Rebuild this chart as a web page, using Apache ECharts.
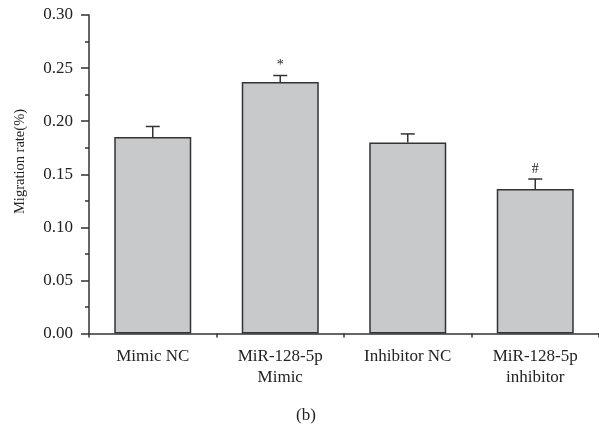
<!DOCTYPE html>
<html><head><meta charset="utf-8">
<script src="https://cdn.jsdelivr.net/npm/echarts@6/dist/echarts.min.js"></script>
<style>html,body{margin:0;padding:0;background:#fff}#c{width:599px;height:429px}</style>
</head><body><div id="c"></div>
<script>
const categories = ['Mimic NC', 'MiR-128-5p\nMimic', 'Inhibitor NC', 'MiR-128-5p\ninhibitor'];
const means = [0.185, 0.237, 0.180, 0.136];
const errors = [0.010, 0.006, 0.008, 0.0095];
const marks = ['', '*', '', '#'];
const yTicks = [0, 0.05, 0.10, 0.15, 0.20, 0.25, 0.30];

const FONT = '"Liberation Serif", "Times New Roman", serif';
const chart = echarts.init(document.getElementById('c'), null, {renderer: 'canvas'});
const axisColor = '#333';
chart.setOption({
  animation: false,
  grid: {left: 89, top: 15, width: 518, height: 318.5, containLabel: false},
  xAxis: [{
    type: 'category', data: categories, position: 'bottom',
    axisLine: {lineStyle: {color: axisColor, width: 1.5}},
    axisTick: {alignWithLabel: true, length: 8, lineStyle: {color: axisColor, width: 1.5}},
    axisLabel: {color: '#222', fontFamily: FONT, fontSize: 17, lineHeight: 21, margin: 13, interval: 0}
  }, {
    type: 'category', data: categories, position: 'bottom', gridIndex: 0,
    axisLine: {show: false},
    axisTick: {show: true, length: 4, lineStyle: {color: axisColor, width: 1.5}},
    axisLabel: {show: false}
  }],
  yAxis: {
    type: 'value', min: 0, max: 0.30, interval: 0.05,
    axisLine: {show: true, lineStyle: {color: axisColor, width: 1.5}},
    axisTick: {show: true, length: 8, lineStyle: {color: axisColor, width: 1.5}},
    minorTick: {show: true, splitNumber: 2, length: 4, lineStyle: {color: axisColor, width: 1.5}},
    splitLine: {show: false},
    axisLabel: {color: '#222', fontFamily: FONT, fontSize: 17, margin: 16,
      formatter: v => { const t = yTicks.find(x => Math.abs(x - v) < 1e-9); return (t !== undefined ? t : v).toFixed(2); }}
  },
  graphic: [
    {type: 'text', x: 20, y: 161.5, rotation: Math.PI / 2, style: {text: 'Migration rate(%)', font: '14.5px ' + FONT, fill: '#222', align: 'center', verticalAlign: 'middle'}},
    {type: 'text', x: 306, y: 416, style: {text: '(b)', font: '17px ' + FONT, fill: '#222', align: 'center', verticalAlign: 'middle'}}
  ],
  series: [{
    type: 'bar', data: means, barWidth: 77, xAxisIndex: 0,
    itemStyle: {color: '#c8c9cb', borderColor: axisColor, borderWidth: 1.5}
  }, {
    type: 'custom', xAxisIndex: 0,
    data: means.map((m, i) => [i, m, m + errors[i], marks[i]]),
    renderItem: function (params, api) {
      const x = api.coord([api.value(0), api.value(1)])[0];
      const y0 = api.coord([api.value(0), api.value(1)])[1];
      const y1 = api.coord([api.value(0), api.value(2)])[1];
      const half = 7;
      const st = {stroke: axisColor, lineWidth: 1.5};
      const children = [
        {type: 'line', shape: {x1: x, y1: y0, x2: x, y2: y1}, style: st},
        {type: 'line', shape: {x1: x - half, y1: y1, x2: x + half, y2: y1}, style: st}
      ];
      const mk = marks[params.dataIndex];
      if (mk) {
        children.push({type: 'text', style: {text: mk, x: x, y: y1 - 3, align: 'center', verticalAlign: 'bottom', font: '14px ' + FONT, fill: '#222'}});
      }
      return {type: 'group', children: children};
    },
    z: 3
  }]
});
</script></body></html>
